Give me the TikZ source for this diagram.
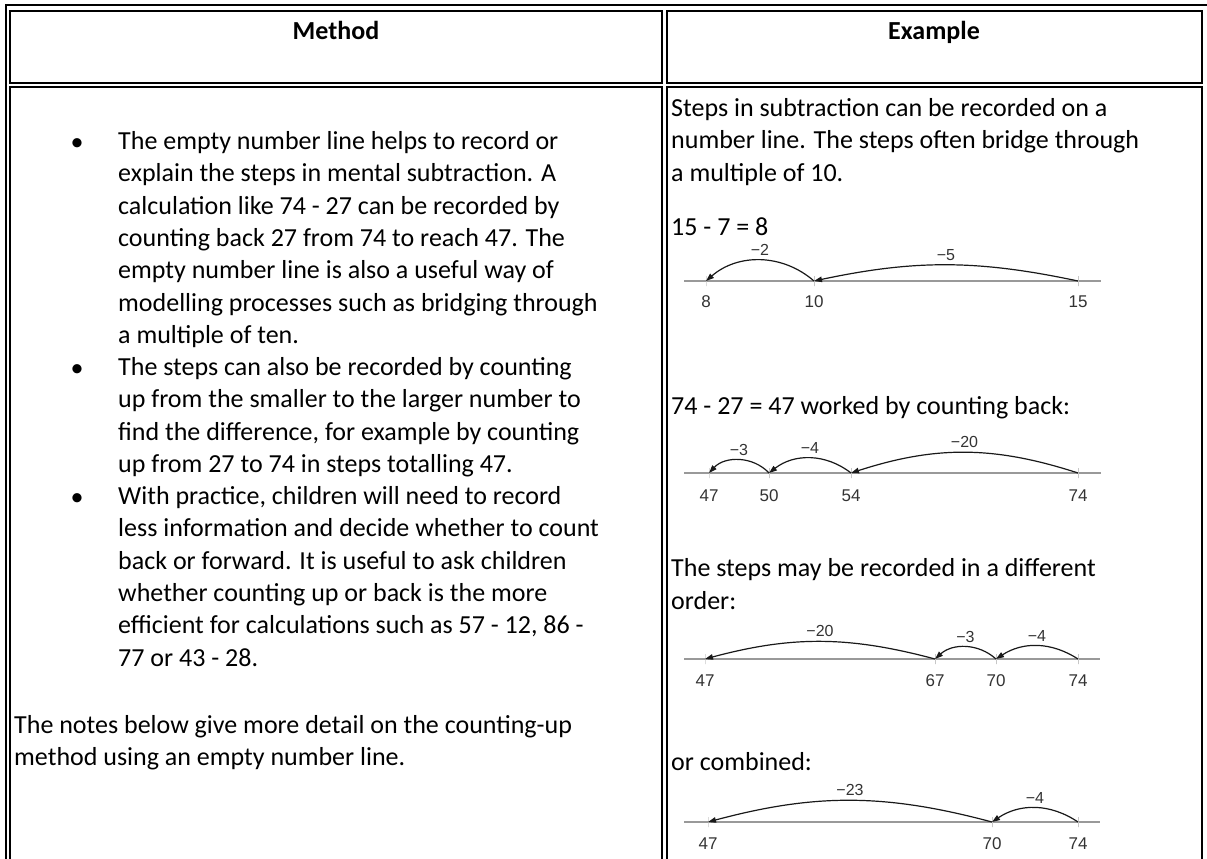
\documentclass[tikz,border=0pt]{standalone}
\usepackage{fontspec}
\setmainfont{Carlito}
\newfontfamily\numfont{Liberation Sans}
\usetikzlibrary{arrows.meta, positioning}

\begin{document}
\begin{tikzpicture}[x=1pt, y=-1pt,
    cell/.style={draw, line width=2pt},
    body/.style={inner sep=0pt, align=left, anchor=north west, font=\fontsize{26}{32.3}\selectfont},
    oneline/.style={inner sep=0pt, anchor=base west, font=\fontsize{26}{32.3}\selectfont},
    head/.style={inner sep=0pt, anchor=base, font=\fontsize{26}{32.3}\selectfont\bfseries},
    bullet/.style={inner sep=0pt, anchor=base, font=\fontsize{26}{32.3}\selectfont},
    numline/.style={draw=black!40, line width=2.5pt},
    tickmark/.style={draw=black!22, line width=1pt, inner sep=0pt, outer sep=0pt, minimum width=0pt, minimum height=10pt},
    num/.style={anchor=base, inner sep=0pt, text=black!80, font=\numfont\fontsize{17}{17}\selectfont},
    jump/.style={draw=black!90, line width=1.2pt, -{Triangle[length=8pt, width=5.5pt]}},
    lbl/.style={above=4pt, inner sep=0pt, text=black!80, font=\numfont\fontsize{16}{16}\selectfont}
]
\useasboundingbox (0,0) rectangle (1207,859);
\clip (0,0) rectangle (1207,859);

% table frame
\draw[cell] (5.5,5.5) rectangle (1213,880);
\draw[cell] (10,11) rectangle (661.5,83);
\draw[cell] (666.5,11) rectangle (1202,83);
\draw[cell] (10,87) rectangle (661.5,880);
\draw[cell] (666.5,87) rectangle (1202,880);

\node[head] (hm) at (336,40) {Method};
\node[head] (he) at (934,40) {Example};

% method column
\node[bullet] (b1) at (77,150) {\textbullet};
\node[body] (m1) at (118,131.3) {The empty number line helps to record or\\
explain the steps in mental subtraction. A\\
calculation like 74 - 27 can be recorded by\\
counting back 27 from 74 to reach 47. The\\
empty number line is also a useful way of\\
modelling processes such as bridging through\\
a multiple of ten.};
\node[bullet] (b2) at (77,376) {\textbullet};
\node[body] (m2) at (118,357.3) {The steps can also be recorded by counting\\
up from the smaller to the larger number to\\
find the difference, for example by counting\\
up from 27 to 74 in steps totalling 47.};
\node[bullet] (b3) at (77,505) {\textbullet};
\node[body] (m3) at (118,486.3) {With practice, children will need to record\\
less information and decide whether to count\\
back or forward. It is useful to ask children\\
whether counting up or back is the more\\
efficient for calculations such as 57 - 12, 86 -\\
77 or 43 - 28.};
\node[body] (m4) at (14,715.3) {The notes below give more detail on the counting-up\\
method using an empty number line.};

% example column
\node[body] (e1) at (671,98.3) {Steps in subtraction can be recorded on a\\
number line. The steps often bridge through\\
a multiple of 10.};
\node[oneline] (e2) at (671,235) {15 - 7 = 8};
\node[oneline] (e3) at (671,414) {74 - 27 = 47 worked by counting back:};
\node[body] (e4) at (671,558.5) {The steps may be recorded in a different\\
order:};
\node[oneline] (e5) at (671,770) {or combined:};

% 15 - 7 = 8
\coordinate (w1) at (684,281);
\coordinate (x1) at (1101,281);
\draw[numline] (w1) -- (x1);
\node[tickmark] (p8)  at (706,281) {};
\node[tickmark] (p10) at (814,281) {};
\node[tickmark] (p15) at (1078,281) {};
\node[num] at ([yshift=-26pt]p8.center) {8};
\node[num] at ([yshift=-26pt]p10.center) {10};
\node[num] at ([yshift=-26pt]p15.center) {15};
\path
    (p10.center) edge[jump, bend right=41] node[lbl] {−2} (p8.center)
    (p15.center) edge[jump, bend right=12] node[lbl] {−5} (p10.center);

% counting back
\coordinate (w2) at (684,473);
\coordinate (x2) at (1101,473);
\draw[numline] (w2) -- (x2);
\node[tickmark] (q47) at (709,473) {};
\node[tickmark] (q50) at (769,473) {};
\node[tickmark] (q54) at (851,473) {};
\node[tickmark] (q74) at (1078,473) {};
\node[num] at ([yshift=-28pt]q47.center) {47};
\node[num] at ([yshift=-28pt]q50.center) {50};
\node[num] at ([yshift=-28pt]q54.center) {54};
\node[num] at ([yshift=-28pt]q74.center) {74};
\path
    (q50.center) edge[jump, bend right=47] node[lbl] {−3} (q47.center)
    (q54.center) edge[jump, bend right=38] node[lbl] {−4} (q50.center)
    (q74.center) edge[jump, bend right=18] node[lbl] {−20} (q54.center);

% different order
\coordinate (w3) at (684,659);
\coordinate (x3) at (1100,659);
\draw[numline] (w3) -- (x3);
\node[tickmark] (r47) at (705,659) {};
\node[tickmark] (r67) at (935,659) {};
\node[tickmark] (r70) at (996,659) {};
\node[tickmark] (r74) at (1078,659) {};
\node[num] at ([yshift=-27pt]r47.center) {47};
\node[num] at ([yshift=-27pt]r67.center) {67};
\node[num] at ([yshift=-27pt]r70.center) {70};
\node[num] at ([yshift=-27pt]r74.center) {74};
\path
    (r67.center) edge[jump, bend right=15] node[lbl] {−20} (r47.center)
    (r70.center) edge[jump, bend right=42] node[lbl] {−3} (r67.center)
    (r74.center) edge[jump, bend right=33] node[lbl] {−4} (r70.center);

% combined
\coordinate (w4) at (684,822);
\coordinate (x4) at (1100,822);
\draw[numline] (w4) -- (x4);
\node[tickmark] (s47) at (708,822) {};
\node[tickmark] (s70) at (992,822) {};
\node[tickmark] (s74) at (1078,822) {};
\node[num] at ([yshift=-27pt]s47.center) {47};
\node[num] at ([yshift=-27pt]s70.center) {70};
\node[num] at ([yshift=-27pt]s74.center) {74};
\path
    (s70.center) edge[jump, bend right=15] node[lbl] {−23} (s47.center)
    (s74.center) edge[jump, bend right=34] node[lbl] {−4} (s70.center);
\end{tikzpicture}
\end{document}
